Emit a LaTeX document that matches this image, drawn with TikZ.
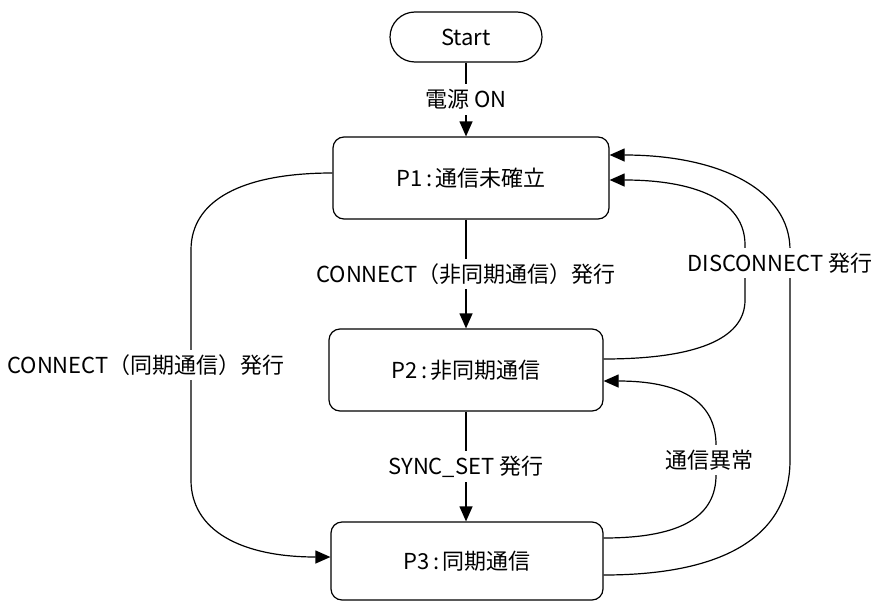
\documentclass[tikz,border=0pt]{standalone}
\usepackage{fontspec}
\setmainfont{Noto Sans CJK JP}
\usetikzlibrary{arrows.meta}

\begin{document}
\begin{tikzpicture}[x=1pt, y=-1pt, line width=1.2pt,
		every node/.style={ font=\fontsize{22}{26}\selectfont, inner sep=2pt },
		state/.style={ draw, rounded corners=11pt, minimum width=274pt, minimum height=82pt },
		lbl/.style={ fill=white, inner ysep=5pt },
		>={Triangle[length=15pt,width=13pt]} ]
	\useasboundingbox (0,0) rectangle (882,602);

	\node[draw, rounded corners=25pt, minimum width=152pt, minimum height=50pt] (start) at (466,37) {Start};
	\node[state, minimum width=276pt] (p1) at (471,178) {P1\,:\,通信未確立};
	\node[state] (p2) at (466,370) {P2\,:\,非同期通信};
	\node[state, minimum width=272pt, minimum height=78pt] (p3) at (467,561) {P3\,:\,同期通信};

	% straight transitions
	\draw[->] (start.south) -- node[lbl] (on) {電源 ON} (start.south |- p1.north);
	\draw[->] (p1.south -| p2.north) -- node[lbl] (async) {CONNECT（非同期通信）発行} (p2.north);
	\draw[->] (p2.south) -- node[lbl] (syncset) {SYNC\_SET 発行} (p2.south |- p3.north);

	% P1 -> P3 on the left
	\draw[->] ([yshift=5pt]p1.west) .. controls +(-90,0) and +(0,-50) .. (191,250)
		-- node[lbl, xshift=-45pt] (sync) {CONNECT（同期通信）発行} (191,480)
		.. controls +(0,50) and +(-90,0) .. ([yshift=4pt]p3.west);

	% P3 -> P2
	\draw[->] ([yshift=23pt]p3.east) .. controls +(80,0) and +(0,40) .. (716,475)
		-- (716,445) .. controls +(0,-45) and +(75,0) .. ([yshift=-11pt]p2.east);
	\node[lbl] (err) at (709,460) {通信異常};

	% back to P1
	\draw[->] ([yshift=11pt]p2.east) .. controls +(90,0) and +(0,40) .. (745,300)
		-- (745,245) .. controls +(0,-45) and +(85,0) .. ([yshift=-2pt]p1.east);
	\draw[->] ([yshift=-14pt]p3.east) .. controls +(130,0) and +(0,70) .. (790,460)
		-- (790,250) .. controls +(0,-60) and +(110,0) .. ([yshift=23pt]p1.east);
	\node[lbl] (disc) at (780,263) {DISCONNECT 発行};
\end{tikzpicture}
\end{document}
